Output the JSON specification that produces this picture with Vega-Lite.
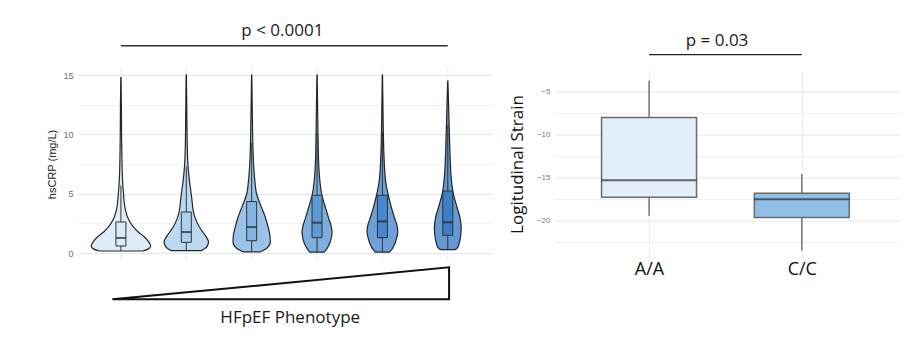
{
  "$schema": "https://vega.github.io/schema/vega-lite/v6.json",
  "background": "white",
  "padding": {"left": 46, "top": 15, "right": 3, "bottom": 3},
  "bounds": "flush",
  "center": true,
  "spacing": 63,
  "resolve": {"scale": {"color": "independent"}},
  "config": {
    "view": {"stroke": null},
    "axis": {"domain": false, "ticks": false, "labelOverlap": false}
  },
  "datasets": {
    "violins": [
      {"g": 1, "y": 0.17, "d": 0.33}, {"g": 1, "y": 0.35, "d": 0.42}, {"g": 1, "y": 0.6, "d": 0.455}, {"g": 1, "y": 0.9, "d": 0.43},
      {"g": 1, "y": 1.35, "d": 0.36}, {"g": 1, "y": 1.8, "d": 0.26}, {"g": 1, "y": 2.2, "d": 0.19}, {"g": 1, "y": 2.8, "d": 0.12},
      {"g": 1, "y": 3.6, "d": 0.07}, {"g": 1, "y": 4.3, "d": 0.05}, {"g": 1, "y": 5.0, "d": 0.04}, {"g": 1, "y": 5.5, "d": 0.032},
      {"g": 1, "y": 6.5, "d": 0.022}, {"g": 1, "y": 8.0, "d": 0.015}, {"g": 1, "y": 10.0, "d": 0.01}, {"g": 1, "y": 12.5, "d": 0.007},
      {"g": 1, "y": 14.8, "d": 0.002},
      {"g": 2, "y": 0.2, "d": 0.23}, {"g": 2, "y": 0.5, "d": 0.31}, {"g": 2, "y": 0.93, "d": 0.34}, {"g": 2, "y": 1.4, "d": 0.3},
      {"g": 2, "y": 1.8, "d": 0.25}, {"g": 2, "y": 2.2, "d": 0.2}, {"g": 2, "y": 2.9, "d": 0.14}, {"g": 2, "y": 3.6, "d": 0.105},
      {"g": 2, "y": 4.3, "d": 0.09}, {"g": 2, "y": 5.0, "d": 0.075}, {"g": 2, "y": 6.0, "d": 0.05}, {"g": 2, "y": 7.5, "d": 0.025},
      {"g": 2, "y": 9.0, "d": 0.015}, {"g": 2, "y": 11.0, "d": 0.01}, {"g": 2, "y": 13.0, "d": 0.006}, {"g": 2, "y": 15.0, "d": 0.002},
      {"g": 3, "y": 0.09, "d": 0.125}, {"g": 3, "y": 0.4, "d": 0.23}, {"g": 3, "y": 0.93, "d": 0.285}, {"g": 3, "y": 1.5, "d": 0.28},
      {"g": 3, "y": 2.0, "d": 0.26}, {"g": 3, "y": 3.0, "d": 0.21}, {"g": 3, "y": 4.0, "d": 0.14}, {"g": 3, "y": 5.0, "d": 0.075},
      {"g": 3, "y": 6.0, "d": 0.05}, {"g": 3, "y": 7.0, "d": 0.035}, {"g": 3, "y": 8.5, "d": 0.022}, {"g": 3, "y": 10.0, "d": 0.015},
      {"g": 3, "y": 12.5, "d": 0.008}, {"g": 3, "y": 15.0, "d": 0.002},
      {"g": 4, "y": 0.08, "d": 0.11}, {"g": 4, "y": 0.35, "d": 0.15}, {"g": 4, "y": 0.65, "d": 0.18}, {"g": 4, "y": 1.2, "d": 0.215},
      {"g": 4, "y": 1.77, "d": 0.23}, {"g": 4, "y": 2.3, "d": 0.215}, {"g": 4, "y": 2.9, "d": 0.18}, {"g": 4, "y": 3.9, "d": 0.125},
      {"g": 4, "y": 5.0, "d": 0.07}, {"g": 4, "y": 6.0, "d": 0.045}, {"g": 4, "y": 7.0, "d": 0.03}, {"g": 4, "y": 8.5, "d": 0.02},
      {"g": 4, "y": 10.0, "d": 0.015}, {"g": 4, "y": 12.5, "d": 0.008}, {"g": 4, "y": 15.0, "d": 0.002},
      {"g": 5, "y": 0.08, "d": 0.11}, {"g": 5, "y": 0.35, "d": 0.15}, {"g": 5, "y": 0.65, "d": 0.18}, {"g": 5, "y": 1.2, "d": 0.215},
      {"g": 5, "y": 1.77, "d": 0.235}, {"g": 5, "y": 2.3, "d": 0.225}, {"g": 5, "y": 2.9, "d": 0.19}, {"g": 5, "y": 3.9, "d": 0.135},
      {"g": 5, "y": 5.0, "d": 0.085}, {"g": 5, "y": 6.0, "d": 0.05}, {"g": 5, "y": 7.0, "d": 0.035}, {"g": 5, "y": 8.5, "d": 0.022},
      {"g": 5, "y": 10.0, "d": 0.015}, {"g": 5, "y": 12.5, "d": 0.008}, {"g": 5, "y": 15.0, "d": 0.002},
      {"g": 6, "y": 0.28, "d": 0.11}, {"g": 6, "y": 0.45, "d": 0.15}, {"g": 6, "y": 0.65, "d": 0.165}, {"g": 6, "y": 1.2, "d": 0.19},
      {"g": 6, "y": 2.06, "d": 0.205}, {"g": 6, "y": 2.9, "d": 0.19}, {"g": 6, "y": 3.9, "d": 0.14}, {"g": 6, "y": 5.0, "d": 0.085},
      {"g": 6, "y": 6.2, "d": 0.055}, {"g": 6, "y": 7.5, "d": 0.04}, {"g": 6, "y": 9.0, "d": 0.03}, {"g": 6, "y": 10.5, "d": 0.022},
      {"g": 6, "y": 12.5, "d": 0.012}, {"g": 6, "y": 14.5, "d": 0.002}
    ],
    "boxes1": [
      {"g": 1, "lower": 0.17, "q1": 0.59, "median": 1.27, "q3": 2.62, "upper": 5.7},
      {"g": 2, "lower": 0.2, "q1": 0.9, "median": 1.77, "q3": 3.46, "upper": 7.3},
      {"g": 3, "lower": 0.09, "q1": 1.04, "median": 2.19, "q3": 4.34, "upper": 9.3},
      {"g": 4, "lower": 0.08, "q1": 1.3, "median": 2.56, "q3": 4.87, "upper": 10.2},
      {"g": 5, "lower": 0.08, "q1": 1.3, "median": 2.67, "q3": 4.87, "upper": 10.2},
      {"g": 6, "lower": 0.28, "q1": 1.49, "median": 2.59, "q3": 5.23, "upper": 10.8}
    ],
    "ramp": [
      {"x": 0.87, "y": -3.91},
      {"x": 6.02, "y": -1.21}
    ],
    "boxes2": [
      {"genotype": "A/A", "gx": 1, "lower": -19.38, "q1": -17.25, "median": -15.27, "q3": -7.98, "upper": -3.69},
      {"genotype": "C/C", "gx": 2, "lower": -23.45, "q1": -19.6, "median": -17.48, "q3": -16.78, "upper": -14.53}
    ],
    "minorGrid2": [{"v": -22.5}, {"v": -17.5}, {"v": -12.5}, {"v": -7.5}]
  },
  "hconcat": [
    {
      "width": 414,
      "height": 298,
      "layer": [
        {
          "data": {"name": "boxes1"},
          "mark": {"type": "rule", "color": "#ececec", "strokeWidth": 1},
          "encoding": {
            "x": {"field": "g", "type": "quantitative", "scale": {"domain": [0.42, 6.6], "nice": false, "zero": false}, "axis": null},
            "y": {
              "datum": -0.75, "type": "quantitative",
              "scale": {"domain": [-5.06, 20.08], "nice": false, "zero": false},
              "axis": {
                "values": [0, 2.5, 5, 7.5, 10, 12.5, 15],
                "labelExpr": "abs(datum.value) % 5 === 0 ? datum.label : ''",
                "title": "hsCRP (mg/L)",
                "grid": true,
                "gridColor": {"condition": {"test": "abs(datum.value) % 5 === 0", "value": "#e6e6e6"}, "value": "#f2f2f2"},
                "labelColor": "#6e6e6e", "labelFont": "Liberation Sans", "labelFontSize": 9, "labelPadding": 5,
                "titleFont": "Liberation Sans", "titleFontSize": 11, "titleFontWeight": "normal", "titleColor": "#222", "titlePadding": 5
              }
            },
            "y2": {"datum": 15.75}
          }
        },
        {
          "data": {"name": "violins"},
          "transform": [
            {"calculate": "datum.g - datum.d", "as": "lo"},
            {"calculate": "datum.g + datum.d", "as": "hi"}
          ],
          "mark": {"type": "area", "orient": "horizontal", "interpolate": "monotone", "stroke": "#262626", "strokeWidth": 1.2, "fillOpacity": 0.8},
          "encoding": {
            "y": {"field": "y", "type": "quantitative"},
            "x": {"field": "lo", "type": "quantitative"},
            "x2": {"field": "hi"},
            "color": {
              "field": "g", "type": "nominal", "legend": null,
              "scale": {"domain": [1, 2, 3, 4, 5, 6], "range": ["#d8e9f8", "#acd0ef", "#82b4e4", "#5e9ad7", "#4888d0", "#3f7fc8"]}
            }
          }
        },
        {
          "data": {"name": "boxes1"},
          "mark": {"type": "rule", "color": "#333", "strokeWidth": 1},
          "encoding": {
            "x": {"field": "g", "type": "quantitative"},
            "y": {"field": "lower", "type": "quantitative"},
            "y2": {"field": "q1"}
          }
        },
        {
          "data": {"name": "boxes1"},
          "mark": {"type": "rule", "color": "#333", "strokeWidth": 1},
          "encoding": {
            "x": {"field": "g", "type": "quantitative"},
            "y": {"field": "q3", "type": "quantitative"},
            "y2": {"field": "upper"}
          }
        },
        {
          "data": {"name": "boxes1"},
          "mark": {"type": "bar", "size": 10, "stroke": "#333", "strokeWidth": 1},
          "encoding": {
            "x": {"field": "g", "type": "quantitative"},
            "y": {"field": "q1", "type": "quantitative"},
            "y2": {"field": "q3"},
            "color": {"field": "g", "type": "nominal", "legend": null}
          }
        },
        {
          "data": {"name": "boxes1"},
          "mark": {"type": "tick", "orient": "horizontal", "size": 10, "thickness": 2, "color": "#222"},
          "encoding": {
            "x": {"field": "g", "type": "quantitative"},
            "y": {"field": "median", "type": "quantitative"}
          }
        },
        {
          "data": {"values": [{}]},
          "mark": {"type": "rule", "color": "#333", "strokeWidth": 1.5},
          "encoding": {
            "x": {"datum": 1, "type": "quantitative"},
            "x2": {"datum": 6},
            "y": {"datum": 17.49, "type": "quantitative"}
          }
        },
        {
          "data": {"values": [{}]},
          "mark": {"type": "text", "font": "Open Sans", "fontSize": 17, "color": "#1a1a1a"},
          "encoding": {
            "x": {"datum": 3.47, "type": "quantitative"},
            "y": {"datum": 18.7, "type": "quantitative"},
            "text": {"value": "p < 0.0001"}
          }
        },
        {
          "data": {"name": "ramp"},
          "mark": {"type": "area", "fill": "white", "stroke": "#111", "strokeWidth": 2, "interpolate": "linear"},
          "encoding": {
            "x": {"field": "x", "type": "quantitative"},
            "y": {"field": "y", "type": "quantitative"},
            "y2": {"datum": -3.91}
          }
        },
        {
          "data": {"values": [{}]},
          "mark": {"type": "text", "font": "Open Sans", "fontSize": 17, "color": "#1a1a1a"},
          "encoding": {
            "x": {"datum": 3.59, "type": "quantitative"},
            "y": {"datum": -5.49, "type": "quantitative"},
            "text": {"value": "HFpEF Phenotype"}
          }
        }
      ]
    },
    {
      "width": 345,
      "height": 187,
      "layer": [
        {
          "data": {"name": "minorGrid2"},
          "mark": {"type": "rule", "color": "#f0f0f0", "strokeWidth": 1},
          "encoding": {
            "y": {
              "field": "v", "type": "quantitative",
              "scale": {"domain": [-24.25, -2.5], "nice": false, "zero": false},
              "axis": {
                "values": [-20, -15, -10, -5],
                "title": "Logitudinal Strain",
                "grid": true,
                "gridColor": "#e6e6e6",
                "labelColor": "#777", "labelFont": "Liberation Sans", "labelFontSize": 8, "labelPadding": 5,
                "titleFont": "Open Sans", "titleFontSize": 17, "titleFontWeight": "normal", "titleColor": "#111", "titlePadding": 10
              }
            }
          }
        },
        {
          "data": {"name": "boxes2"},
          "mark": {"type": "rule", "color": "#555", "strokeWidth": 1.2},
          "encoding": {
            "x": {
              "field": "gx", "type": "quantitative",
              "scale": {"domain": [0.417, 2.61], "nice": false, "zero": false},
              "axis": {
                "values": [1, 2],
                "labelExpr": "datum.value === 1 ? 'A/A' : 'C/C'",
                "title": null, "labelFont": "Open Sans", "labelFontSize": 18, "labelColor": "#111",
                "labelPadding": 3, "grid": true, "gridColor": "#ebebeb", "labelFlush": false
              }
            },
            "y": {"field": "lower", "type": "quantitative"},
            "y2": {"field": "q1"}
          }
        },
        {
          "data": {"name": "boxes2"},
          "mark": {"type": "rule", "color": "#555", "strokeWidth": 1.2},
          "encoding": {
            "x": {"field": "gx", "type": "quantitative"},
            "y": {"field": "q3", "type": "quantitative"},
            "y2": {"field": "upper"}
          }
        },
        {
          "data": {"name": "boxes2"},
          "mark": {"type": "bar", "size": 95, "stroke": "#6a6a6a", "strokeWidth": 1.5},
          "encoding": {
            "x": {"field": "gx", "type": "quantitative"},
            "y": {"field": "q1", "type": "quantitative"},
            "y2": {"field": "q3"},
            "color": {
              "field": "genotype", "type": "nominal", "legend": null,
              "scale": {"domain": ["A/A", "C/C"], "range": ["#e2effa", "#8fbfe7"]}
            }
          }
        },
        {
          "data": {"name": "boxes2"},
          "mark": {"type": "tick", "orient": "horizontal", "size": 95, "thickness": 2, "color": "#2b2b2b"},
          "encoding": {
            "x": {"field": "gx", "type": "quantitative"},
            "y": {"field": "median", "type": "quantitative"}
          }
        },
        {
          "data": {"values": [{}]},
          "mark": {"type": "rule", "color": "#222", "strokeWidth": 1.3},
          "encoding": {
            "x": {"datum": 1, "type": "quantitative"},
            "x2": {"datum": 2},
            "y": {"datum": -0.66, "type": "quantitative"}
          }
        },
        {
          "data": {"values": [{}]},
          "mark": {"type": "text", "font": "Open Sans", "fontSize": 17, "color": "#1a1a1a"},
          "encoding": {
            "x": {"datum": 1.445, "type": "quantitative"},
            "y": {"datum": 0.965, "type": "quantitative"},
            "text": {"value": "p = 0.03"}
          }
        }
      ]
    }
  ]
}
